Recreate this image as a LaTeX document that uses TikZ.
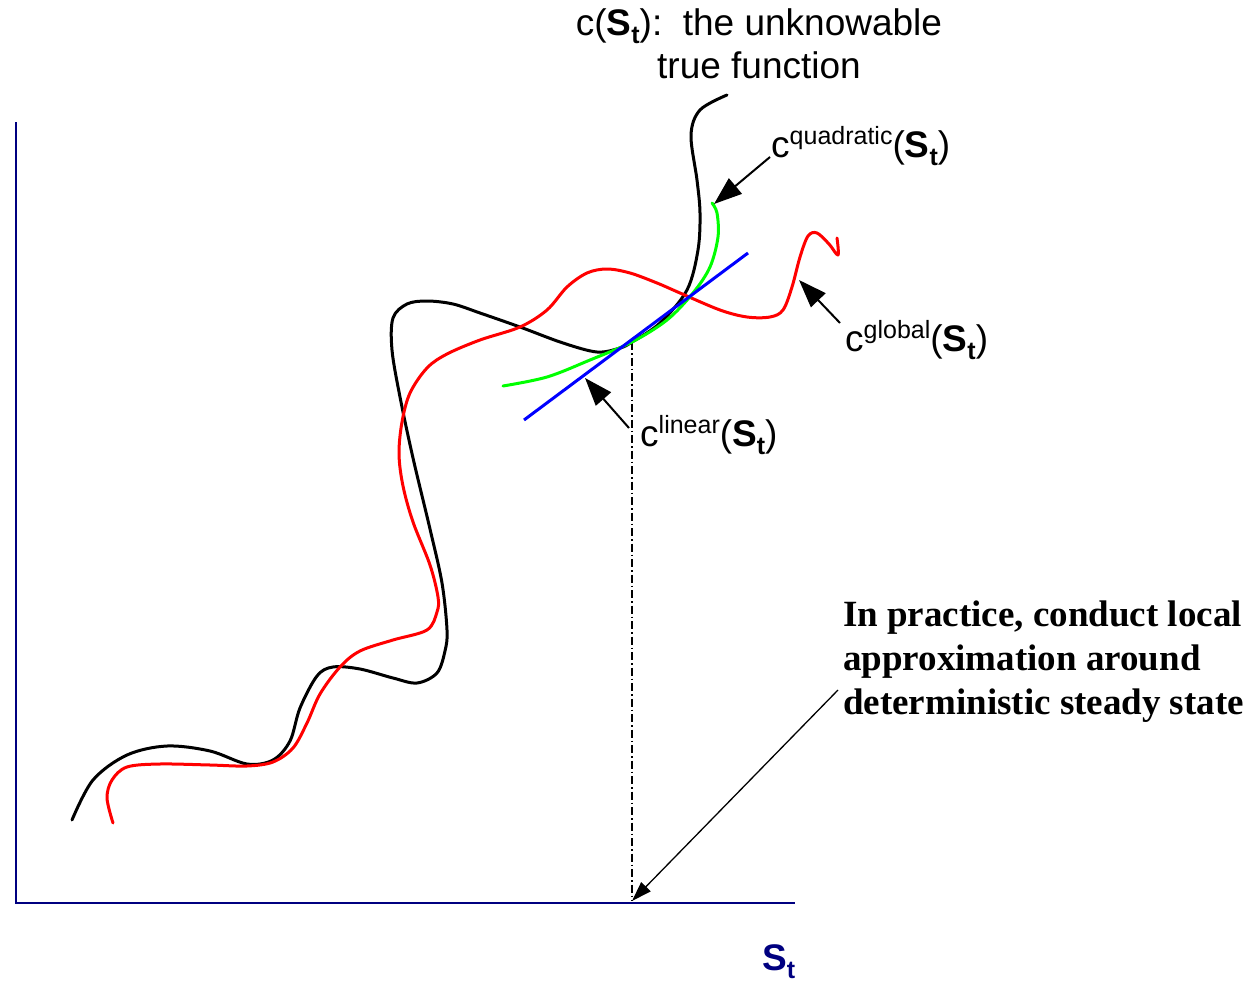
\documentclass[tikz,border=0pt]{standalone}
\usepackage{fontspec}
\setmainfont{Liberation Sans}
\newfontfamily\notefont{Liberation Serif}
\usetikzlibrary{arrows.meta}
\definecolor{axisblue}{RGB}{0,0,128}
\definecolor{trueblack}{RGB}{0,0,0}
\definecolor{globalred}{RGB}{255,0,0}
\definecolor{quadgreen}{RGB}{0,255,0}
\definecolor{linblue}{RGB}{0,0,255}
\newcommand\mysup[1]{\raisebox{0.33em}{\fontsize{25}{25}\selectfont #1}}
\newcommand\myS{\textbf{S}\raisebox{-0.24em}{\fontsize{25}{25}\selectfont\bfseries t}}
\begin{document}
\begin{tikzpicture}[x=1pt,y=-1pt,
  lab/.style={font=\fontsize{37}{43}\selectfont, inner sep=0pt},
  curve/.style={line width=3pt, line join=round, line cap=round},
  pointer/.style={line width=2pt, -{Triangle[length=28pt,width=20pt]}},
  longpointer/.style={line width=1.3pt, -{Triangle[length=20pt,width=13pt]}},
  axis/.style={draw=axisblue, line width=2.2pt},
  dashdot/.style={line width=1.3pt, dash pattern=on 8pt off 3pt on 1.5pt off 3pt}]
\useasboundingbox (0,0) rectangle (1259,982);

% axes
\coordinate (ytop) at (16,122);
\coordinate (origin) at (16,903);
\coordinate (xend) at (795,903);
\draw[axis] (ytop) -- (origin) -- (xend);
\node[lab, text=axisblue, font=\fontsize{37}{43}\selectfont\bfseries, anchor=base west] (xlabel) at (762,970) {\myS};

% steady state
\coordinate (ss) at (632,342);
\coordinate (ssaxis) at (632,901);
\draw[dashdot] (ss) -- (ssaxis);

% true function
\draw[curve, trueblack] plot[smooth, tension=0.55] coordinates {
 (72,820) (93,780) (127,755) (167,746) (210,751) (247,764) (273,760) (290,741)
 (300,708) (317,676) (333,667) (360,669) (393,678) (417,683) (437,673) (445,651)
 (447,630) (442,583) (430,529) (413,458) (400,397) (392,350) (393,318) (407,304)
 (427,301) (453,304) (480,313) (520,327) (563,343) (597,352) (620,348) (632,342)
 (660,323) (687,290) (698,250) (700,213) (697,180) (691,135) (700,110) (727,95)};

% global approximation
\draw[curve, globalred] plot[smooth, tension=0.55] coordinates {
 (113,823) (107,798) (112,780) (127,767) (160,764) (210,765) (247,766) (273,762)
 (293,748) (307,723) (320,694) (340,667) (360,651) (393,640) (427,630) (437,612)
 (438,597) (430,565) (413,522) (403,486) (399,454) (402,422) (410,393) (427,368)
 (447,354) (480,340) (520,327) (547,310) (567,287) (587,273) (607,269) (630,273)
 (657,283) (680,293) (720,310) (747,317) (770,317) (783,310) (792,287) (800,257)
 (808,236) (817,233) (829,244) (838,255) (837,238)};

% quadratic approximation
\draw[curve, quadgreen] plot[smooth, tension=0.55] coordinates {
 (503,386) (547,377) (590,360) (632,342) (667,320) (693,293) (710,267) (718,237)
 (717,213) (712,203)};

% linear approximation
\coordinate (linA) at (524,420);
\coordinate (linB) at (748,253);
\draw[curve, linblue, line cap=butt] (linA) -- (linB);

% labels
\node[lab, align=center, anchor=base] (title) at (759,78) {c(\myS):\ \ the unknowable\\true function};
\node[lab, anchor=base west] (quadlab) at (771,157) {c\mysup{quadratic}(\myS)};
\node[lab, anchor=base west] (globlab) at (845,351) {c\mysup{global}(\myS)};
\node[lab, anchor=base west] (linlab) at (640,446) {c\mysup{linear}(\myS)};
\node[inner sep=0pt, align=left, anchor=base west, font=\notefont\bfseries\fontsize{37}{44}\selectfont] (note) at (843,714)
 {In practice, conduct local\\approximation around\\deterministic steady state};

% pointers
\coordinate (qstart) at (770,157);
\coordinate (qtip) at (714,204);
\draw[pointer] (qstart) -- (qtip);
\coordinate (gstart) at (840,323);
\coordinate (gtip) at (799,280);
\draw[pointer] (gstart) -- (gtip);
\coordinate (lstart) at (629,428);
\coordinate (ltip) at (585,378);
\draw[pointer] (lstart) -- (ltip);
\coordinate (nstart) at (838,690);
\draw[longpointer] (nstart) -- (ssaxis);
\end{tikzpicture}
\end{document}
